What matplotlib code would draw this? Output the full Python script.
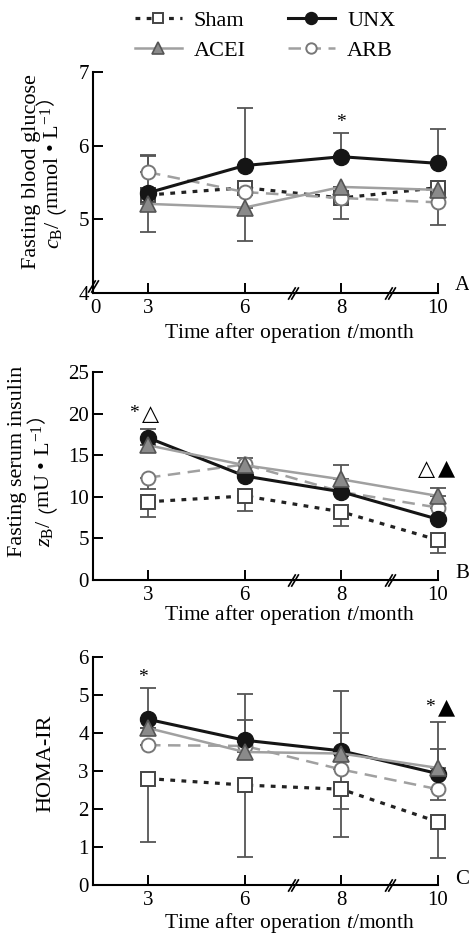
import numpy as np
import matplotlib
matplotlib.use('Agg')
import matplotlib.pyplot as plt
from matplotlib.path import Path

plt.rcParams['font.family'] = ['Liberation Serif', 'DejaVu Sans']
plt.rcParams['mathtext.fontset'] = 'custom'
plt.rcParams['mathtext.rm'] = 'Liberation Serif'
plt.rcParams['mathtext.it'] = 'Liberation Serif:italic'

SERIF = ['Liberation Serif', 'DejaVu Sans']
CJK = ['Noto Sans CJK SC', 'DejaVu Sans']

months = ['3', '6', '8', '10']
groups = ['Sham', 'UNX', 'ACEI', 'ARB']

# A: fasting blood glucose (mmol/L)
glu = {
    'Sham': [5.33, 5.43, 5.29, 5.43],
    'UNX':  [5.36, 5.73, 5.85, 5.76],
    'ACEI': [5.21, 5.16, 5.44, 5.40],
    'ARB':  [5.64, 5.37, 5.29, 5.23],
}
glu_lo = {
    'Sham': [0, 0, 0.28, 0],
    'UNX':  [0, 0, 0, 0],
    'ACEI': [0.38, 0.45, 0, 0],
    'ARB':  [0, 0, 0, 0.31],
}
glu_hi = {
    'Sham': [0, 0, 0, 0],
    'UNX':  [0.51, 0.78, 0.32, 0.46],
    'ACEI': [0, 0, 0, 0],
    'ARB':  [0.22, 0, 0, 0],
}

# B: fasting serum insulin (mU/L)
ins = {
    'Sham': [9.4, 10.1, 8.2, 4.8],
    'UNX':  [17.1, 12.5, 10.6, 7.3],
    'ACEI': [16.2, 13.8, 12.1, 10.1],
    'ARB':  [12.3, 13.9, 10.6, 8.7],
}
ins_lo = {
    'Sham': [1.8, 1.8, 1.7, 1.6],
    'UNX':  [0, 0, 0, 0],
    'ACEI': [0, 0, 0, 0],
    'ARB':  [1.4, 0, 0, 0],
}
ins_hi = {
    'Sham': [0, 0, 0, 0],
    'UNX':  [1.1, 0, 0, 0],
    'ACEI': [0, 0.9, 1.7, 0.9],
    'ARB':  [0, 0, 0, 0],
}

# C: HOMA-IR
homa = {
    'Sham': [2.80, 2.63, 2.52, 1.66],
    'UNX':  [4.36, 3.81, 3.53, 2.93],
    'ACEI': [4.13, 3.50, 3.46, 3.08],
    'ARB':  [3.68, 3.66, 3.04, 2.52],
}
homa_lo = {
    'Sham': [1.68, 1.90, 1.25, 0.96],
    'UNX':  [0, 0, 0, 0],
    'ACEI': [0, 0, 0, 0],
    'ARB':  [0, 0, 1.05, 0.27],
}
homa_hi = {
    'Sham': [0, 0, 0, 0],
    'UNX':  [0.82, 1.21, 1.57, 0.64],
    'ACEI': [0, 0.83, 0.54, 1.21],
    'ARB':  [0, 0, 0, 0],
}

style = {
    'Sham': dict(color='#222222', lw=2.3, dashes=(1.5, 2.0), marker='s', ms=9.5,
                 mfc='white', mec='#444444', mew=1.4, zorder=3),
    'ARB':  dict(color='#a0a0a0', lw=1.8, dashes=(5, 3), marker='o', ms=10,
                 mfc='white', mec='#777777', mew=1.4, zorder=4),
    'UNX':  dict(color='#151515', lw=2.2, ls='-', marker='o', ms=11.5,
                 mfc='#151515', mec='#151515', mew=1.0, zorder=5),
    'ACEI': dict(color='#a0a0a0', lw=1.8, ls='-', marker='^', ms=11,
                 mfc='#8a8a8a', mec='#555555', mew=1.2, zorder=6),
}
draw_order = ['Sham', 'ARB', 'UNX', 'ACEI']

W, H = 469, 936
fig = plt.figure(figsize=(W / 100, H / 100), dpi=100)

pos = np.arange(1, len(months) + 1)
xleft = 0.431

brk = Path([(-0.85, -1), (0.35, 1), (-0.35, -1), (0.85, 1)],
           [Path.MOVETO, Path.LINETO, Path.MOVETO, Path.LINETO])


def fx(px):
    return px / W


def fy(py):
    return 1 - py / H


def panel(rect, data, lo, hi, ylim, yticks):
    ax = fig.add_axes(rect)
    for g in draw_order:
        ax.errorbar(pos, data[g], yerr=[lo[g], hi[g]], fmt='none', ecolor='#555555',
                    elinewidth=1.3, capsize=6, capthick=1.3, zorder=2, clip_on=False)
    handles = {}
    for g in draw_order:
        h, = ax.plot(pos, data[g], label=g, clip_on=False, **style[g])
        handles[g] = h
    ax.set_xlim(xleft, 4.0)
    ax.set_ylim(*ylim)
    ax.set_yticks(yticks)
    for s in ['top', 'right']:
        ax.spines[s].set_visible(False)
    for s in ['left', 'bottom']:
        ax.spines[s].set_linewidth(1.5)
    ax.tick_params(direction='in', length=7, width=1.4, labelsize=15, pad=4)
    ax.tick_params(axis='y', pad=3)
    # axis break marks
    ax.plot([2.5, 3.5], [ylim[0], ylim[0]], ls='none', marker=brk, ms=9,
            mec='black', mew=1.2, clip_on=False, zorder=7)
    return ax, handles


def vlabel(x_px, yc_px, pieces, fs=16):
    # rotated label built from pieces so that the CJK brackets get their own font
    # piece: (text, family, size, dx, gap before, advance fix)
    r = fig.canvas.get_renderer()
    adv = []
    for s, fam, size, dx, pre, post in pieces:
        t = fig.text(0, 0, s, fontsize=size, family=fam)
        adv.append(pre + t.get_window_extent(r).width + post)
        t.remove()
    y0 = (H - yc_px) - sum(adv) / 2
    for (s, fam, size, dx, pre, post), a in zip(pieces, adv):
        fig.text(fx(x_px + dx), (y0 + pre) / H, s, rotation=90, rotation_mode='anchor',
                 ha='left', va='baseline', fontsize=size, family=fam)
        y0 += a


def unit_label(x_px, yc_px, sym, unit):
    vlabel(x_px, yc_px, [(sym, SERIF, 16, 0, 0, 0),
                         ('\uff08', CJK, 14, -7, 6, -14),
                         (unit, SERIF, 16, 0, 0, 0),
                         ('\uff09', CJK, 14, -7, 0, 0)])


# panel A
axA, hd = panel([fx(93), fy(293), (438 - 93) / W, (293 - 72) / H],
                glu, glu_lo, glu_hi, (4, 7), [4, 5, 6, 7])
axA.set_xticks([0.459] + list(pos))
axA.set_xticklabels(['0'] + months)
axA.xaxis.get_major_ticks()[0].tick1line.set_visible(False)
axA.plot([xleft], [4.1], ls='none', marker=brk, ms=9, mec='black', mew=1.2,
         clip_on=False, zorder=7)
axA.text(2.996, 6.31, '*', ha='center', va='center', fontsize=14)

# panel B
axB, _ = panel([fx(93), fy(580), (438 - 93) / W, (580 - 372) / H],
               ins, ins_lo, ins_hi, (0, 25), [0, 5, 10, 15, 20, 25])
axB.set_xticks(pos)
axB.set_xticklabels(months)
axB.text(0.855, 20.0, '*', ha='center', va='center', fontsize=14)
axB.text(1.03, 20.0, '\u25b3', ha='center', va='center', fontsize=16, family=['DejaVu Sans'])
axB.text(3.886, 13.4, '\u25b3', ha='center', va='center', fontsize=16, family=['DejaVu Sans'])
axB.text(4.093, 13.4, '\u25b2', ha='center', va='center', fontsize=16, family=['DejaVu Sans'])

# panel C
axC, _ = panel([fx(93), fy(885), (438 - 93) / W, (885 - 657) / H],
               homa, homa_lo, homa_hi, (0, 6), [0, 1, 2, 3, 4, 5, 6])
axC.set_xticks(pos)
axC.set_xticklabels(months)
axC.text(0.95, 5.45, '*', ha='center', va='center', fontsize=14)
axC.text(3.917, 4.68, '*', ha='center', va='center', fontsize=14)
axC.text(4.093, 4.68, '\u25b2', ha='center', va='center', fontsize=16, family=['DejaVu Sans'])

# y labels
vlabel(36, 172, [('Fasting blood glucose', SERIF, 16, 0, 0, 0)])
unit_label(59, 168, r'$c_{\mathrm{B}}$/', r'mmol • L$^{\mathrm{-1}}$')
vlabel(22, 461, [('Fasting serum insulin', SERIF, 16, 0, 0, 0)])
unit_label(50, 476, r'$z_{\mathrm{B}}$/', r'mU • L$^{\mathrm{-1}}$')
vlabel(50, 763, [('HOMA-IR', SERIF, 16, 0, 0, 0)])

# x labels and panel letters
for yy in [333, 615, 923]:
    fig.text(fx(289), fy(yy), r'Time after operation $t$/month', ha='center', va='center', fontsize=15.5)
for letter, yy in [('A', 286), ('B', 573), ('C', 880)]:
    fig.text(fx(455), fy(yy), letter, ha='left', va='center', fontsize=15)

fig.legend(handles=[hd['Sham'], hd['ACEI'], hd['UNX'], hd['ARB']], ncol=2,
           loc='upper left', bbox_to_anchor=(fx(135), fy(10)), frameon=False,
           fontsize=16, handlelength=2.1, handletextpad=0.55, columnspacing=1.9,
           labelspacing=0.45, borderpad=0, borderaxespad=0, markerscale=0.75)

fig.savefig('out.png', dpi=100)
